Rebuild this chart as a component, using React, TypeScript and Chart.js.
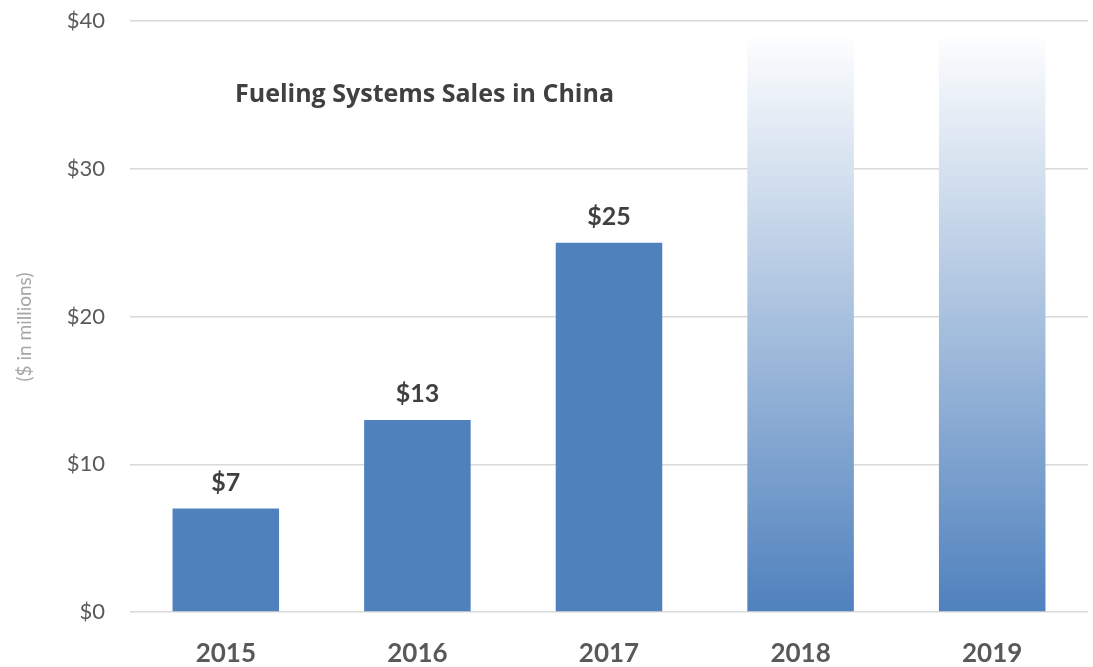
import React, { useEffect, useRef } from "react";
import { Chart, registerables } from "chart.js";

Chart.register(...registerables);

const categories = ["2015", "2016", "2017", "2018", "2019"];
const salesValues = [7, 13, 25, 39.3, 39.3];
const isProjection = [false, false, false, true, true];
const dataLabels = ["$7", "$13", "$25", "", ""];
const chartTitle = "Fueling Systems Sales in China";
const yAxisTitle = "($ in millions)";

const BLUE = "#4f81bd";
const FONT = "Lato, 'Open Sans', sans-serif";

const overlayPlugin = {
  id: "overlay",
  afterDatasetsDraw(chart: any) {
    const ctx = chart.ctx;
    const meta = chart.getDatasetMeta(0);
    ctx.save();
    // data labels
    ctx.fillStyle = "#404040";
    ctx.font = `bold 25px ${FONT}`;
    ctx.textAlign = "center";
    ctx.textBaseline = "alphabetic";
    meta.data.forEach((bar: any, i: number) => {
      if (!dataLabels[i]) return;
      ctx.fillText(dataLabels[i], bar.x, bar.y - 18);
    });
    // chart title
    ctx.font = `bold 25px 'Open Sans', sans-serif`;
    ctx.textAlign = "left";
    ctx.fillStyle = "#404040";
    ctx.fillText(chartTitle, 235, 102);
    // y axis title
    ctx.translate(25, 327);
    ctx.rotate(-Math.PI / 2);
    ctx.textAlign = "center";
    ctx.textBaseline = "middle";
    ctx.font = `19px ${FONT}`;
    ctx.fillStyle = "#a6a6a6";
    ctx.fillText(yAxisTitle, 0, 0);
    ctx.restore();
  },
};

export default function App() {
  const canvasRef = useRef<HTMLCanvasElement | null>(null);

  useEffect(() => {
    if (!canvasRef.current) return;
    const chart = new Chart(canvasRef.current, {
      type: "bar",
      data: {
        labels: categories,
        datasets: [
          {
            data: salesValues,
            backgroundColor: (c: any) => {
              const ch = c.chart;
              const area = ch.chartArea;
              if (!area || !isProjection[c.dataIndex]) return BLUE;
              const top = ch.scales.y.getPixelForValue(salesValues[c.dataIndex]);
              const g = ch.ctx.createLinearGradient(0, area.bottom, 0, top);
              g.addColorStop(0, BLUE);
              g.addColorStop(1, "#ffffff");
              return g;
            },
            borderWidth: 0,
            categoryPercentage: 1,
            barPercentage: 0.556,
          },
        ],
      },
      options: {
        animation: false,
        responsive: true,
        maintainAspectRatio: false,
        layout: { padding: { left: 0, right: 5, top: 21, bottom: 0 } },
        plugins: {
          legend: { display: false },
          tooltip: { enabled: false },
          title: { display: false },
        },
        scales: {
          x: {
            grid: { display: false, drawTicks: false },
            border: { display: false },
            ticks: {
              color: "#595959",
              font: { family: FONT, size: 26, weight: "bold" },
              padding: 26,
            },
            afterFit: (s: any) => {
              s.height = 55;
            },
          },
          y: {
            min: 0,
            max: 40,
            ticks: {
              stepSize: 10,
              color: "#595959",
              font: { family: FONT, size: 22 },
              padding: 25,
              callback: (v: any) => "$" + v,
            },
            grid: { color: "#d9d9d9", lineWidth: 1.5, drawTicks: false },
            border: { display: false },
            afterFit: (s: any) => {
              s.width = 130;
              s.paddingTop = 0;
              s.paddingBottom = 0;
            },
          },
        },
      },
      plugins: [overlayPlugin],
    });
    return () => chart.destroy();
  }, []);

  return (
    <div style={{ position: "absolute", left: 0, top: 0, width: 1093, height: 667, background: "#fff" }}>
      <canvas ref={canvasRef} />
    </div>
  );
}
